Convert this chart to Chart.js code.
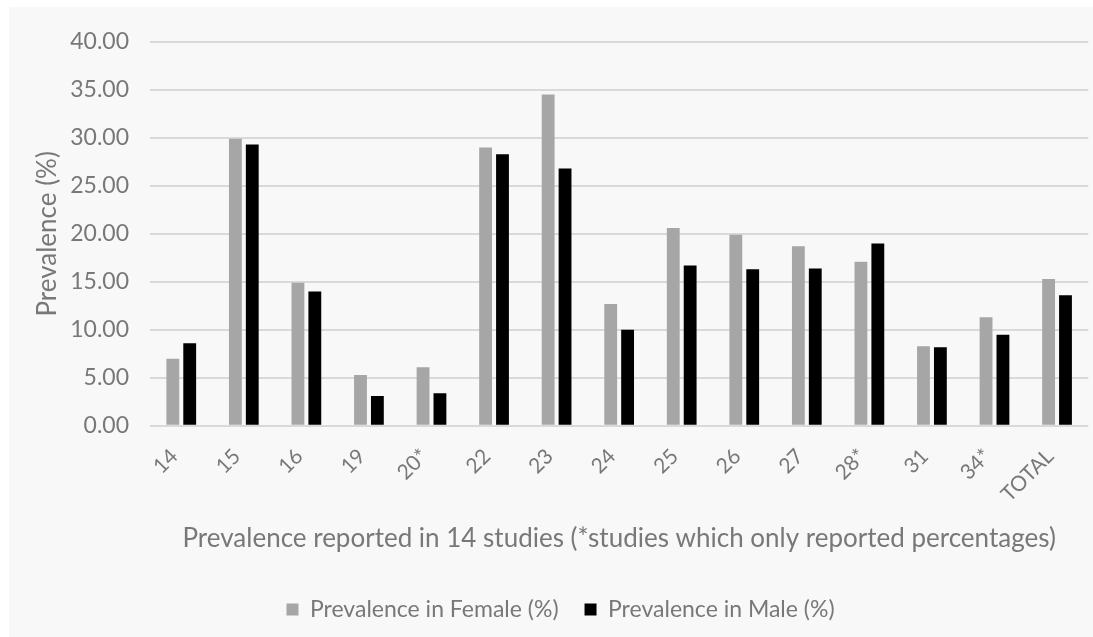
<!DOCTYPE html>
<html>
<head>
<meta charset="utf-8">
<script src="https://cdn.jsdelivr.net/npm/chart.js@4/dist/chart.umd.min.js"></script>
<style>
  html, body { margin: 0; padding: 0; background: #ffffff; }
  #wrap { position: absolute; left: 9px; top: 7px; width: 1084px; height: 630px; background: #f8f8f8; }
</style>
</head>
<body>
<div id="wrap"><canvas id="prevChart" width="1084" height="630"></canvas></div>
<script>
const studies = ['14', '15', '16', '19', '20*', '22', '23', '24', '25', '26', '27', '28*', '31', '34*', 'TOTAL'];
const femaleValues = [7.0, 29.9, 14.9, 5.3, 6.1, 29.0, 34.5, 12.7, 20.6, 19.9, 18.7, 17.1, 8.3, 11.3, 15.3];
const maleValues = [8.6, 29.3, 14.0, 3.1, 3.4, 28.3, 26.8, 10.0, 16.7, 16.3, 16.4, 19.0, 8.2, 9.5, 13.6];
const yTicks = [0, 5, 10, 15, 20, 25, 30, 35, 40];

const textColor = '#787878';
const fontFamily = 'Lato, "Open Sans", sans-serif';

const config = {
    type: 'bar',
    data: {
        labels: studies,
        datasets: [
            { label: 'Prevalence in Female (%)', data: femaleValues, backgroundColor: '#a6a6a6', borderWidth: 0 },
            { label: 'Prevalence in Male (%)', data: maleValues, backgroundColor: '#000000', borderWidth: 0 }
        ]
    },
    options: {
        responsive: false,
        animation: false,
        devicePixelRatio: 1,
        datasets: { bar: { categoryPercentage: 0.54, barPercentage: 0.76 } },
        layout: { padding: { left: 23, right: 4, top: 22, bottom: 6 } },
        scales: {
            x: {
                grid: { display: false, drawTicks: false },
                border: { display: false },
                ticks: {
                    color: textColor,
                    font: { family: fontFamily, size: 21 },
                    maxRotation: 45,
                    minRotation: 45,
                    autoSkip: false,
                    labelOffset: -7,
                    padding: 18
                },
                title: {
                    display: true,
                    text: 'Prevalence reported in 14 studies (*studies which only reported percentages)',
                    color: textColor,
                    font: { family: fontFamily, size: 26 },
                    padding: { top: -2, bottom: 18 }
                }
            },
            y: {
                min: 0,
                max: 40,
                afterBuildTicks: (axis) => { axis.ticks = yTicks.map(v => ({ value: v })); },
                grid: { color: '#d9d9d9', lineWidth: 2, drawTicks: false },
                border: { display: false },
                ticks: {
                    color: textColor,
                    font: { family: fontFamily, size: 23 },
                    padding: 21,
                    callback: (v) => Number(v).toFixed(2)
                },
                title: {
                    display: true,
                    text: 'Prevalence (%)',
                    color: textColor,
                    font: { family: fontFamily, size: 26 },
                    padding: { top: 0, bottom: -14 }
                }
            }
        },
        plugins: {
            tooltip: { enabled: false },
            legend: {
                position: 'bottom',
                labels: {
                    color: textColor,
                    font: { family: fontFamily, size: 23 },
                    boxWidth: 12,
                    boxHeight: 12,
                    padding: 26
                }
            }
        }
    }
};

new Chart(document.getElementById('prevChart'), config);
</script>
</body>
</html>
